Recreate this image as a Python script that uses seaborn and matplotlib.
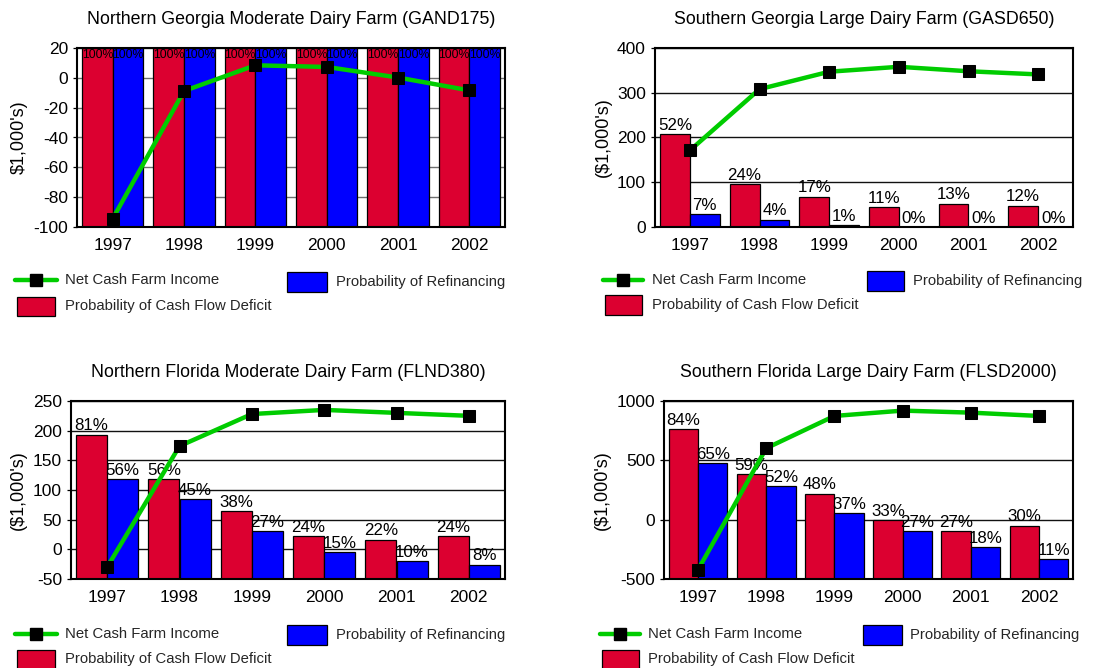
import numpy as np
import pandas as pd
import matplotlib
matplotlib.use("Agg")
import matplotlib.pyplot as plt
from matplotlib.lines import Line2D
from matplotlib.patches import Rectangle
import seaborn as sns

# ---------------- data ----------------
years = ["1997", "1998", "1999", "2000", "2001", "2002"]

title_ga_n = "Northern Georgia Moderate Dairy Farm (GAND175)"
title_ga_s = "Southern Georgia Large Dairy Farm (GASD650)"
title_fl_n = "Northern Florida Moderate Dairy Farm (FLND380)"
title_fl_s = "Southern Florida Large Dairy Farm (FLSD2000)"

ga_n_income = [-94.5, -8.8, 8.4, 7.3, 0.2, -8.4]
ga_n_deficit = [100, 100, 100, 100, 100, 100]
ga_n_refi = [100, 100, 100, 100, 100, 100]

ga_s_income = [171, 308, 347, 358, 348, 341]
ga_s_deficit = [52, 24, 17, 11, 13, 12]
ga_s_refi = [7, 4, 1, 0, 0, 0]

fl_n_income = [-30, 174, 228, 235, 230, 225]
fl_n_deficit = [81, 56, 38, 24, 22, 24]
fl_n_refi = [56, 45, 27, 15, 10, 8]

fl_s_income = [-421, 602, 874, 919, 902, 874]
fl_s_deficit = [84, 59, 48, 33, 27, 30]
fl_s_refi = [65, 52, 37, 27, 18, 11]

ga_n_yticks = [-100, -80, -60, -40, -20, 0, 20]
ga_s_yticks = [0, 100, 200, 300, 400]
fl_n_yticks = [-50, 0, 50, 100, 150, 200, 250]
fl_s_yticks = [-500, 0, 500, 1000]

lbl_line = "Net Cash Farm Income"
lbl_refi = "Probability of Refinancing"
lbl_def = "Probability of Cash Flow Deficit"

# ---------------- style ----------------
RED = "#DC0030"
BLUE = "#0000FF"
GREEN = "#00CC00"

sns.set_style("white")
plt.rcParams["font.family"] = ["Liberation Sans", "DejaVu Sans"]
plt.rcParams["axes.unicode_minus"] = False

W, H = 1119, 668
fig = plt.figure(figsize=(W / 100, H / 100), dpi=100)
fig.patch.set_facecolor("white")


def fx(px):
    return px / W


def fy(py):
    return 1 - py / H


def rect(x0, y0, x1, y1):
    return [fx(x0), fy(y1), (x1 - x0) / W, (y1 - y0) / H]


def panel(box, title, ylabel, income, deficit, refi, yticks, grid_color,
          label_size, legend):
    ax = fig.add_axes(rect(*box))
    ax.set_ylim(yticks[0], yticks[-1])
    ax.set_yticks(yticks)
    ax.yaxis.grid(True, color=grid_color, lw=1.0)
    ax.xaxis.grid(False)
    ax.set_axisbelow(True)
    for s in ax.spines.values():
        s.set_visible(False)

    # bars on hidden secondary axis (0-100%)
    ax2 = ax.twinx()
    df = pd.DataFrame({
        "year": years * 2,
        "frac": [v / 100 for v in deficit] + [v / 100 for v in refi],
        "series": [lbl_def] * len(years) + [lbl_refi] * len(years),
    })
    sns.barplot(data=df, x="year", y="frac", hue="series", order=years,
                hue_order=[lbl_def, lbl_refi], palette=[RED, BLUE],
                width=0.86, edgecolor="black", linewidth=0.9, saturation=1,
                errorbar=None, legend=False, ax=ax2)
    ax2.set_ylim(0, 1)
    ax2.set_yticks([])
    ax2.set_ylabel("")
    ax2.set_xlabel("")
    for s in ax2.spines.values():
        s.set_visible(False)

    # percent labels
    for cont, vals in zip(ax2.containers, [deficit, refi]):
        for patch, v in zip(cont.patches, vals):
            xc = patch.get_x() + patch.get_width() / 2
            h = patch.get_height()
            if v >= 95:
                ax2.annotate(f"{v}%", (xc, h), xytext=(0, -0.5),
                             textcoords="offset points", ha="center",
                             va="top", fontsize=label_size, color="black")
            else:
                ax2.annotate(f"{v}%", (xc, h), xytext=(0, 1),
                             textcoords="offset points", ha="center",
                             va="bottom", fontsize=label_size, color="black")

    # line on third axis sharing the dollar scale
    ax3 = ax.twinx()
    ax3.set_ylim(yticks[0], yticks[-1])
    sns.lineplot(x=np.arange(len(years)), y=income, ax=ax3, color=GREEN,
                 lw=3.2, marker="s", markersize=8.5, markerfacecolor="black",
                 markeredgecolor="black", zorder=5)
    ax3.set_yticks([])
    ax3.set_ylabel("")
    for s in ax3.spines.values():
        s.set_visible(True)
        s.set_color("black")
        s.set_linewidth(1.5)

    ax.set_xlim(-0.5, len(years) - 0.5)
    ax.set_xticks(range(len(years)), labels=years)
    ax.tick_params(axis="x", length=0, pad=8, labelsize=12.5, colors="black")
    ax.tick_params(axis="y", left=True, length=3, width=0.9, direction="out",
                   pad=3.5, labelsize=12.5, colors="black")
    ax.set_xlabel("")
    ax.set_ylabel(ylabel, fontsize=13, labelpad=4, color="black")
    ax.set_title(title, fontsize=12.8, pad=17.5, color="black")

    # legend (figure pixel positions)
    (lx0, lx1, ly, ltx, bx0, bx1, by0, by1, btx, rx0, rx1, ry0, ry1, rty) = legend
    fig.add_artist(Line2D([fx(lx0), fx(lx1)], [fy(ly), fy(ly)], color=GREEN,
                          lw=3.2, transform=fig.transFigure))
    fig.add_artist(Line2D([fx((lx0 + lx1) / 2)], [fy(ly)], marker="s",
                          markersize=8.5, color="black", lw=0,
                          transform=fig.transFigure))
    fig.text(fx(ltx), fy(ly), lbl_line, fontsize=10.7, va="center",
             ha="left")
    fig.add_artist(Rectangle((fx(bx0), fy(by1)), (bx1 - bx0) / W,
                             (by1 - by0) / H, facecolor=BLUE,
                             edgecolor="black", lw=0.9,
                             transform=fig.transFigure))
    fig.text(fx(btx), fy((by0 + by1) / 2), lbl_refi, fontsize=10.7,
             va="center", ha="left")
    fig.add_artist(Rectangle((fx(rx0), fy(ry1)), (rx1 - rx0) / W,
                             (ry1 - ry0) / H, facecolor=RED,
                             edgecolor="black", lw=0.9,
                             transform=fig.transFigure))
    fig.text(fx(ltx), fy(rty), lbl_def, fontsize=10.7, va="center",
             ha="left")
    return ax


panel((77, 48, 505, 227), title_ga_n, "$1,000's)", ga_n_income, ga_n_deficit,
      ga_n_refi, ga_n_yticks, "#6E6E6E", 8.8,
      (15, 57, 280, 65, 287, 327, 272, 292, 336, 17, 55, 297, 316, 306))
panel((655, 48, 1073, 227), title_ga_s, "($1,000's)", ga_s_income,
      ga_s_deficit, ga_s_refi, ga_s_yticks, "#111111", 12.2,
      (603, 643, 280, 652, 867, 904, 271, 291, 913, 605, 642, 295, 315, 305))
panel((71, 401, 505, 579), title_fl_n, "($1,000's)", fl_n_income,
      fl_n_deficit, fl_n_refi, fl_n_yticks, "#111111", 12.2,
      (15, 57, 634, 65, 287, 327, 625, 645, 336, 17, 55, 650, 670, 659))
panel((664, 401, 1073, 579), title_fl_s, "($1,000's)", fl_s_income,
      fl_s_deficit, fl_s_refi, fl_s_yticks, "#111111", 12.2,
      (600, 640, 634, 648, 863, 902, 625, 645, 910, 602, 639, 650, 670, 659))

fig.savefig("out.png", dpi=100, facecolor="white")
